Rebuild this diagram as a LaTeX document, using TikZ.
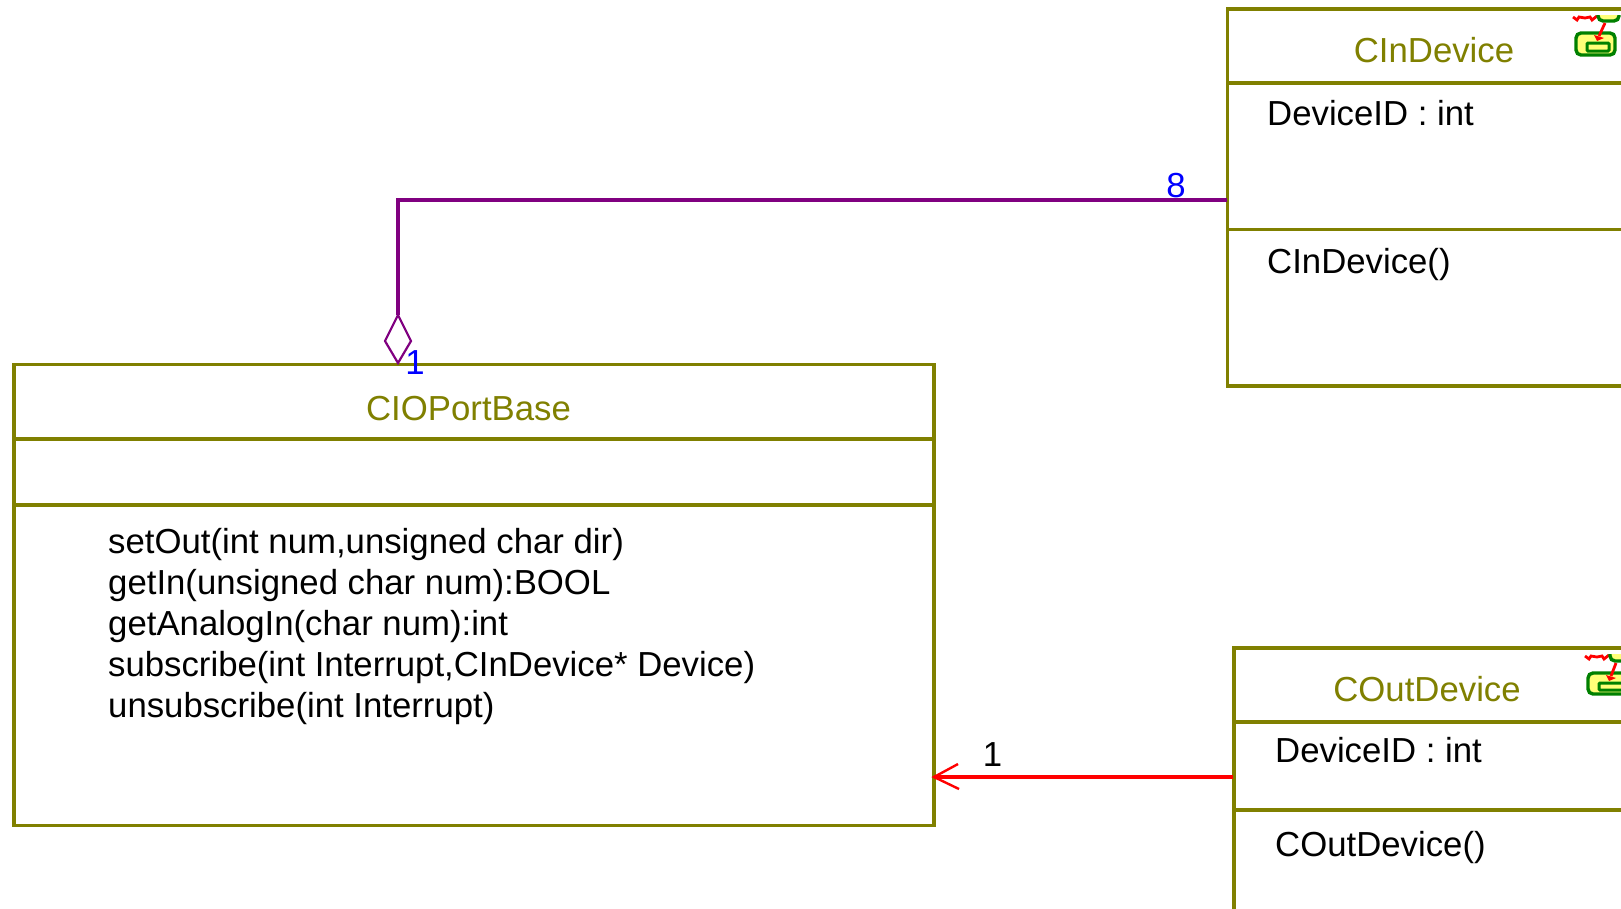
\documentclass[tikz,border=0pt]{standalone}
\usepackage{fontspec}
\setmainfont{Liberation Sans}
\definecolor{umlolive}{RGB}{128,128,0}
\definecolor{umlpurple}{RGB}{128,0,128}
\definecolor{icongreen}{RGB}{0,128,0}
\definecolor{iconyellow}{RGB}{255,255,120}
\tikzset{
  x=1pt,y=-1pt,
  classbox/.style={draw=umlolive,line width=3.4pt,fill=white,rectangle,inner sep=0pt,outer sep=0pt,anchor=north west},
  divider/.style={draw=umlolive,line width=3.4pt},
  uname/.style={text=umlolive,font=\fontsize{34.75}{34.75}\selectfont,anchor=base,inner sep=0pt},
  member/.style={text=black,font=\fontsize{34.75}{34.75}\selectfont,anchor=base west,inner sep=0pt},
  mult/.style={font=\fontsize{34.75}{34.75}\selectfont,anchor=base,inner sep=0pt},
  iconbody/.style={draw=icongreen,fill=iconyellow,line width=3.4pt,rounded corners=5pt},
  iconinner/.style={draw=icongreen,fill=iconyellow,line width=3pt,rounded corners=1pt},
  iconred/.style={draw=red,line width=2.8pt},
}
\begin{document}
\begin{tikzpicture}
\useasboundingbox (0,0) rectangle (1621,908);
\clip (0,0) rectangle (1621,908);
\fill[white] (0,0) rectangle (1621,908);
% class boxes
\node[classbox,minimum width=920pt,minimum height=461pt] (base) at (14,364.5) {};
\node[classbox,minimum width=420pt,minimum height=377pt] (in) at (1227.3,9) {};
\node[classbox,minimum width=420pt,minimum height=320pt] (out) at (1234,648) {};
\draw[divider] (14,439) -- (934,439);
\draw[divider] (14,505) -- (934,505);
\draw[divider] (1227,83) -- (1640,83);
\draw[divider] (1227,229.5) -- (1640,229.5);
\draw[divider] (1234,722) -- (1640,722);
\draw[divider] (1234,810) -- (1640,810);
% texts
\node[uname] (tbase) at (468.5,420) {CIOPortBase};
\node[uname] (tin) at (1434,62) {CInDevice};
\node[uname] (tout) at (1427,701) {COutDevice};
\node[member] (a1) at (1267,125) {DeviceID : int};
\node[member] (m1) at (1267,273) {CInDevice()};
\node[member] (a2) at (1275,762) {DeviceID : int};
\node[member] (m2) at (1275,856) {COutDevice()};
\node[member] (o1) at (108,553) {setOut(int num,unsigned char dir)};
\node[member] (o2) at (108,594) {getIn(unsigned char num):BOOL};
\node[member] (o3) at (108,635) {getAnalogIn(char num):int};
\node[member] (o4) at (108,676) {subscribe(int Interrupt,CInDevice* Device)};
\node[member] (o5) at (108,717) {unsubscribe(int Interrupt)};
% aggregation
\coordinate (dtop) at (398,315);
\coordinate (bend) at (398,200);
\coordinate (inpt) at (1227,200);
\draw[umlpurple,line width=3.4pt] (inpt) -- (bend) -- (dtop);
\draw[umlpurple,line width=2.2pt,fill=white,line join=miter] (dtop) -- (411,341) -- (398,363) -- (385,341) -- cycle;
\node[mult,text=blue] (m8) at (1176,197) {8};
\node[mult,text=blue] (m1b) at (415,374) {1};
% association
\coordinate (tip) at (934,777);
\coordinate (outpt) at (1233,777);
\draw[red,line width=3.4pt] (outpt) -- (tip);
\draw[red,line width=2.4pt] (958,764) -- (tip) -- (959,789);
\node[mult,text=black] (m1c) at (992.5,766) {1};
% icons
\begin{scope}
\clip (1560,15) rectangle (1621,70);
\draw[iconred] (1573,17) -- (1577,20) -- (1579,17) -- (1585,18) -- (1590,17) -- (1592,20) -- (1597,16);
\draw[iconbody] (1598,8) rectangle (1619,21);
\draw[iconbody] (1576,33) rectangle (1615,55);
\draw[iconinner] (1587,43) rectangle (1609,51);
\draw[iconred] (1605,23) -- (1599,36);
\fill[red] (1594,35) -- (1604,38) -- (1597,41) -- cycle;
\end{scope}
\begin{scope}
\clip (1570,654) rectangle (1640,710);
\draw[iconred] (1585,656) -- (1589,659) -- (1591,656) -- (1597,657) -- (1602,656) -- (1604,659) -- (1609,655);
\draw[iconbody] (1610,647) rectangle (1631,661);
\draw[iconbody] (1588,673) rectangle (1640,694);
\draw[iconinner] (1599,683) rectangle (1640,690);
\draw[iconred] (1616,663) -- (1611,676);
\fill[red] (1606,675) -- (1616,678) -- (1609,681) -- cycle;
\end{scope}
\end{tikzpicture}
\end{document}
